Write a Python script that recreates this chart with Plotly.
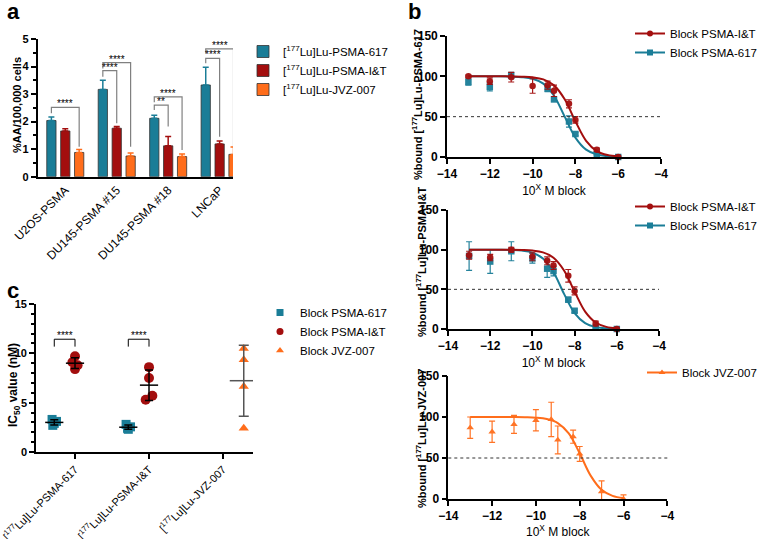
import numpy as np
import plotly.graph_objects as go

FONT = "Arial, 'Liberation Sans', Helvetica, sans-serif"
TEAL = "#1A7D97"
RED = "#A30E0E"
ORANGE = "#FF6D1B"
W, H = 762, 539

# ---------------- panel a : uptake per cell line
cell_lines = ["U2OS-PSMA", "DU145-PSMA #15", "DU145-PSMA #18", "LNCaP"]
tracer_names = ["[<sup>177</sup>Lu]Lu-PSMA-617", "[<sup>177</sup>Lu]Lu-PSMA-I&T", "[<sup>177</sup>Lu]Lu-JVZ-007"]
uptake_617 = [2.04, 3.17, 2.12, 3.33]
uptake_it = [1.66, 1.76, 1.12, 1.19]
uptake_jvz = [0.88, 0.75, 0.73, 0.81]
err_617 = [0.13, 0.33, 0.11, 0.64]
err_it = [0.08, 0.06, 0.34, 0.11]
err_jvz = [0.11, 0.11, 0.09, 0.27]

# significance brackets (cell line, compared tracer, label, top, left foot, right foot)
sig_cell = [0, 1, 1, 2, 2, 3, 3]
sig_to = [2, 1, 2, 1, 2, 1, 2]
sig_label = ["****", "****", "****", "**", "****", "****", "****"]
sig_top = [2.52, 3.85, 4.14, 2.60, 2.90, 4.30, 4.64]
sig_left = [2.30, 3.63, 3.93, 2.42, 2.70, 4.12, 4.48]
sig_right = [1.09, 1.94, 1.09, 1.82, 0.97, 1.45, 1.09]

# ---------------- panel b : competition binding curves
log_dose = [-13, -12, -11, -10, -9.3, -9, -8.3, -8, -7, -6]
fit_x = [-13, -12.5, -12, -11.5, -11, -10.5, -10, -9.5, -9, -8.5, -8, -7.5, -7, -6.5, -6]

# [177Lu]Lu-PSMA-617
b1_it = [100, 94, 99, 88, 89, 82, 66, 46, 9, 0]
b1_it_err = [1.5, 4, 6, 9, 5, 7, 5, 4, 2, 1]
b1_617 = [93, 87, 101, None, 85, 71.5, 44, 28.5, 3.7, 0]
b1_617_err = [4, 5, 4, None, 4, 3, 7, 2, 1, 1]
b1_it_fit = [100, 100, 100, 100, 99.9, 99.6, 98.8, 96.2, 88.8, 71.5, 44.3, 20.1, 7.4, 2.5, 0.8]
b1_617_fit = [100, 100, 100, 100, 99.7, 99.0, 96.9, 90.9, 76.0, 50.0, 24.0, 9.1, 3.1, 1.0, 0.3]

# [177Lu]Lu-PSMA-I&T
b2_it = [93, 90, 100, 91, 86, 80, 67, 48, 7, 0]
b2_it_err = [5, 4, 3, 5, 5, 5, 8, 5, 3, 1]
b2_617 = [92, 85, 98, 89, 76, 73, 37, 23, 2, 0]
b2_617_err = [18, 15, 12, 6, 11, 6, 3, 2, 1, 1]
b2_it_fit = [100, 100, 100, 100, 99.9, 99.6, 98.9, 96.6, 89.9, 73.8, 47.1, 22.0, 8.2, 2.7, 0.9]
b2_617_fit = [100, 100, 100, 99.9, 99.6, 98.8, 96.2, 88.8, 71.5, 44.3, 20.1, 7.4, 2.5, 0.8, 0.3]

# [177Lu]Lu-JVZ-007
b3_jvz = [87, 82, 91, 96, 97, 72, 76, 55, 9, 0]
b3_jvz_err = [13, 13, 11, 13, 21, 17, 8, 9, 13, 5]
b3_jvz_fit = [100, 100, 100, 100, 99.9, 99.7, 99.2, 97.5, 92.6, 79.9, 55.7, 28.5, 11.2, 3.8, 1.2]

# ---------------- panel c : IC50 values (nM)
ic50_blk617 = [[3.3, 3.1, 2.9, 2.7], [2.8, 2.55, 2.4, 2.3]]
ic50_blkit = [[9.7, 9.1, 8.8, 8.4], [8.6, 7.5, 5.7, 5.3]]
ic50_blkjvz = [[10.5, 9.35, 6.65, 2.4]]
jit_blk617 = [[-0.03, 0.03, 0.0, -0.02], [-0.03, 0.03, -0.01, 0.0]]
jit_blkit = [[0.0, -0.035, 0.035, 0.0], [0.0, 0.0, 0.045, -0.045]]
c_sig_group = [0, 1]
c_sig_top = [11.43, 11.43]
c_sig_foot = [10.68, 10.68]


def dom_x(p0, p1):
    return [p0 / W, p1 / W]


def dom_y(top, bottom):
    return [1 - bottom / H, 1 - top / H]


def axis_style(**kw):
    d = dict(showline=True, linecolor="black", linewidth=1.6, ticks="outside", ticklen=5,
             tickwidth=1.6, tickcolor="black", showgrid=False, zeroline=False, automargin=False,
             ticklabeloverflow="allow",
             tickfont=dict(family=FONT, size=11, color="black", weight="bold"))
    d.update(kw)
    return d


fig = go.Figure()

# ---- a: bars
a_off = [-0.27, 0.0, 0.27]
a_cols = [TEAL, RED, ORANGE]
uptakes = [uptake_617, uptake_it, uptake_jvz]
uptake_errs = [err_617, err_it, err_jvz]
for k in range(3):
    fig.add_trace(go.Bar(
        x=[i + a_off[k] for i in range(len(cell_lines))], y=uptakes[k], width=0.18,
        marker=dict(color=a_cols[k], line=dict(color="#333333", width=0.8)),
        error_y=dict(type="data", array=uptake_errs[k], arrayminus=[0] * 4, symmetric=False,
                     color=a_cols[k], thickness=1.5, width=3),
        name=tracer_names[k], xaxis="x", yaxis="y", legend="legend"))

annots = []
for s in range(len(sig_cell)):
    x0 = sig_cell[s] + a_off[0]
    x1 = sig_cell[s] + a_off[sig_to[s]]
    fig.add_trace(go.Scatter(x=[x0, x0, x1, x1], y=[sig_left[s], sig_top[s], sig_top[s], sig_right[s]],
                             mode="lines", line=dict(color="#808080", width=1.2),
                             showlegend=False, hoverinfo="skip", xaxis="x", yaxis="y"))
    annots.append(dict(x=(x0 + x1) / 2, y=sig_top[s], xref="x", yref="y", text=sig_label[s],
                       showarrow=False, yanchor="bottom", yshift=-4,
                       font=dict(family=FONT, size=10, color="black")))


# ---- b: binding curves
def add_curve(ax, ay, leg, ys, errs, fit, color, symbol, name):
    fig.add_trace(go.Scatter(x=fit_x, y=fit, mode="lines", line=dict(color=color, width=2, shape="spline"),
                             showlegend=False, hoverinfo="skip", xaxis=ax, yaxis=ay))
    fig.add_trace(go.Scatter(x=log_dose, y=ys, mode="markers", cliponaxis=False,
                             marker=dict(color=color, size=6.5, symbol=symbol),
                             error_y=dict(type="data", array=errs, color=color, thickness=1.2, width=3),
                             opacity=0.95, showlegend=False, xaxis=ax, yaxis=ay))
    fig.add_trace(go.Scatter(x=[None], y=[None], mode="lines+markers", name=name,
                             line=dict(color=color, width=2), marker=dict(color=color, size=6, symbol=symbol),
                             xaxis=ax, yaxis=ay, legend=leg))


add_curve("x2", "y2", "legend2", b1_617, b1_617_err, b1_617_fit, TEAL, "square", "Block PSMA-617")
add_curve("x2", "y2", "legend2", b1_it, b1_it_err, b1_it_fit, RED, "circle", "Block PSMA-I&T")
add_curve("x3", "y3", "legend3", b2_617, b2_617_err, b2_617_fit, TEAL, "square", "Block PSMA-617")
add_curve("x3", "y3", "legend3", b2_it, b2_it_err, b2_it_fit, RED, "circle", "Block PSMA-I&T")
add_curve("x4", "y4", "legend4", b3_jvz, b3_jvz_err, b3_jvz_fit, ORANGE, "triangle-up", "Block JVZ-007")

shapes = []
for ax, ay in [("x2", "y2"), ("x3", "y3"), ("x4", "y4")]:
    shapes.append(dict(type="line", xref=ax + " domain", x0=0, x1=1, yref=ay, y0=50, y1=50,
                       line=dict(color="#333333", width=1, dash="dot")))

# ---- c: IC50 scatter
c_off = {"617": -0.28, "it": 0.0, "jvz": 0.28}
c_sets = [("617", ic50_blk617, jit_blk617, TEAL, "square", 9, "black", [0, 1]),
          ("it", ic50_blkit, jit_blkit, RED, "circle", 10, "black", [0, 1]),
          ("jvz", ic50_blkjvz, [[0, 0, 0, 0]], ORANGE, "triangle-up", 9, "#555555", [2])]
for key, vals, jit, color, sym, size, mcol, groups in c_sets:
    for g, v, j in zip(groups, vals, jit):
        fig.add_trace(go.Scatter(x=[g + c_off[key] + jj for jj in j], y=v, mode="markers", cliponaxis=False,
                                 marker=dict(color=color, size=size, symbol=sym),
                                 showlegend=False, xaxis="x5", yaxis="y5"))
    for g, v in zip(groups, vals):
        mlen = 20 if key == "jvz" else 13
        fig.add_trace(go.Scatter(x=[g + c_off[key]], y=[np.mean(v)], mode="markers",
                                 marker=dict(symbol="line-ew", size=mlen, line=dict(color=mcol, width=1.5)),
                                 error_y=dict(type="data", array=[np.std(v, ddof=1)], color=mcol,
                                              thickness=1.5, width=4 if key != "jvz" else 5),
                                 showlegend=False, xaxis="x5", yaxis="y5"))

for g, top, foot in zip(c_sig_group, c_sig_top, c_sig_foot):
    x0 = g + c_off["617"]
    x1 = g + c_off["it"]
    fig.add_trace(go.Scatter(x=[x0, x0, x1, x1], y=[foot, top, top, foot], mode="lines",
                             line=dict(color="black", width=1), showlegend=False, hoverinfo="skip",
                             xaxis="x5", yaxis="y5"))
    annots.append(dict(x=(x0 + x1) / 2, y=top, xref="x5", yref="y5", text="****", showarrow=False,
                       yanchor="bottom", yshift=-4, font=dict(family=FONT, size=10, color="black")))

for name, color, sym in [("Block PSMA-617", TEAL, "square"), ("Block PSMA-I&T", RED, "circle"),
                         ("Block JVZ-007", ORANGE, "triangle-up")]:
    fig.add_trace(go.Scatter(x=[None], y=[None], mode="markers", name=name,
                             marker=dict(color=color, size=7, symbol=sym), xaxis="x5", yaxis="y5",
                             legend="legend5"))

# panel letters
for txt, px, py in [("a", 13, 12), ("b", 414, 11), ("c", 13, 290)]:
    annots.append(dict(x=px / W, y=1 - py / H, xref="paper", yref="paper", text="<b>%s</b>" % txt,
                       xanchor="center", yanchor="middle", showarrow=False,
                       font=dict(family=FONT, size=22, color="black")))

# y-axis titles, placed where GraphPad put them
ytitle_font = dict(family=FONT, size=11, color="black", weight="bold")
for txt, px, py, fsize in [("%AA/100,000 cells", 17, 105, 11),
                           ("%bound [<sup>177</sup>Lu]Lu-PSMA-617", 417, 105, 11),
                           ("%bound [<sup>177</sup>Lu]Lu-PSMA-I&T", 421, 262, 11),
                           ("%bound [<sup>177</sup>Lu]Lu-JVZ-007", 421, 439, 11),
                           ("IC<sub>50</sub> value (nM)", 14, 385, 12)]:
    annots.append(dict(x=px / W, y=1 - py / H, xref="paper", yref="paper", text=txt, textangle=-90,
                       xanchor="center", yanchor="middle", showarrow=False,
                       font=dict(family=FONT, size=fsize, color="black", weight="bold")))

leg_common = dict(bgcolor="rgba(0,0,0,0)", font=dict(family=FONT, size=11.5, color="black"),
                  xanchor="left", yanchor="top", tracegroupgap=0, itemwidth=30)
xtitle_font = dict(family=FONT, size=12, color="black")
b_x = dict(range=[-14, -4], dtick=2, tickfont=dict(family=FONT, size=12, color="black", weight="bold"))
b_y = dict(range=[0, 150], dtick=50, tickfont=dict(family=FONT, size=12, color="black", weight="bold"))

fig.update_layout(
    width=W, height=H, margin=dict(l=0, r=0, t=0, b=0, autoexpand=False),
    paper_bgcolor="white", plot_bgcolor="white", barmode="overlay",
    font=dict(family=FONT, color="black"),
    xaxis=axis_style(domain=dom_x(37.7, 233), anchor="y", range=[-0.536, 3.26],
                     tickvals=[0, 1, 2, 3], ticktext=cell_lines, tickangle=-45, ticks="",
                     tickfont=dict(family=FONT, size=12, color="black")),
    yaxis=axis_style(domain=dom_y(39, 176.7), anchor="x", range=[0, 5], dtick=1,
                     minor=dict(dtick=0.5, ticks="outside", ticklen=3, tickcolor="black")),
    xaxis2=axis_style(domain=dom_x(447, 661), anchor="y2",
                      title=dict(text="10<sup>X</sup> M block", font=xtitle_font, standoff=6), **b_x),
    yaxis2=axis_style(domain=dom_y(36, 157), anchor="x2", **b_y),
    xaxis3=axis_style(domain=dom_x(448, 659), anchor="y3",
                      title=dict(text="10<sup>X</sup> M block", font=xtitle_font, standoff=6), **b_x),
    yaxis3=axis_style(domain=dom_y(210, 329), anchor="x3", **b_y),
    xaxis4=axis_style(domain=dom_x(448.3, 667.3), anchor="y4",
                      title=dict(text="10<sup>X</sup> M block", font=xtitle_font, standoff=6), **b_x),
    yaxis4=axis_style(domain=dom_y(376, 499), anchor="x4", **b_y),
    xaxis5=axis_style(domain=dom_x(36, 253), anchor="y5", range=[-0.527, 2.405],
                      tickvals=[0, 1, 2], ticktext=tracer_names, tickangle=-45,
                      tickfont=dict(family=FONT, size=11, color="black")),
    yaxis5=axis_style(domain=dom_y(304, 452), anchor="x5", range=[0, 15], dtick=5,
                      minor=dict(dtick=1, ticks="outside", ticklen=3, tickcolor="black")),
    legend=dict(x=243 / W, y=1 - 37 / H, **leg_common),
    legend2=dict(x=630 / W, y=1 - 19 / H, traceorder="reversed", **leg_common),
    legend3=dict(x=630 / W, y=1 - 192 / H, traceorder="reversed", **leg_common),
    legend4=dict(x=642 / W, y=1 - 358 / H, **leg_common),
    legend5=dict(x=260 / W, y=1 - 298 / H, **leg_common),
    shapes=shapes, annotations=annots,
)

# the page body keeps an 8px margin by default; drop it so the figure sits at the window corner
fig.write_html("out.html", config={"displayModeBar": False},
               post_script="document.body.style.margin='0';")
